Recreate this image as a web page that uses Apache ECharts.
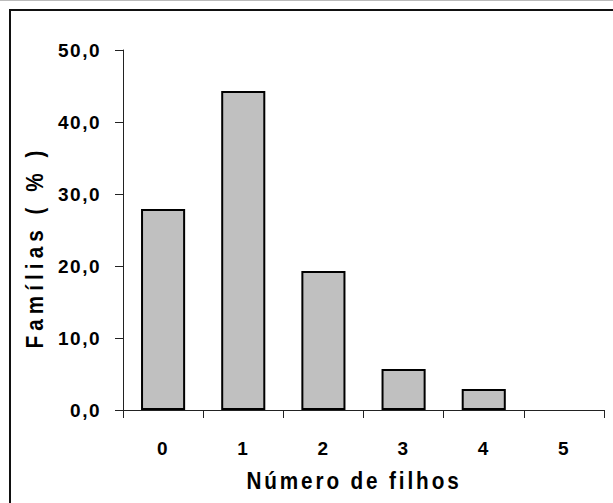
<!DOCTYPE html>
<html>
<head>
<meta charset="utf-8">
<script src="https://cdn.jsdelivr.net/npm/echarts@6/dist/echarts.min.js"></script>
<style>
  html, body { margin: 0; padding: 0; background: #fff; overflow: hidden; }
  #chart { width: 613px; height: 503px; }
</style>
</head>
<body>
<div id="chart"></div>
<script>
// Distribution of families by number of children
const categories = ['0', '1', '2', '3', '4', '5'];
const familyShare = [27.9, 44.3, 19.3, 5.7, 2.9, 0];
const yTicks = { min: 0, max: 50, step: 10 };
const xTitle = 'Número de filhos';
const yTitle = 'Famílias ( % )';

const FONT = '"Liberation Sans", Arial, sans-serif';
const chart = echarts.init(document.getElementById('chart'), null, { renderer: 'svg' });

// empty categories get no outline, so nothing is drawn on the axis for them
const barData = familyShare.map(v => (v > 0 ? v : { value: v, itemStyle: { borderWidth: 0 } }));

chart.setOption({
  animation: false,
  backgroundColor: '#fff',
  grid: { left: 123, right: 9, top: 50, bottom: 93, containLabel: false },
  xAxis: {
    type: 'category',
    data: categories,
    boundaryGap: true,
    axisLine: { lineStyle: { color: '#222', width: 1 } },
    axisTick: { show: true, length: 8, alignWithLabel: false, lineStyle: { color: '#222', width: 1 } },
    axisLabel: { color: '#000', fontFamily: FONT, fontWeight: 'bold', fontSize: 19, margin: 29 },
    splitLine: { show: false }
  },
  yAxis: {
    type: 'value',
    min: yTicks.min,
    max: yTicks.max,
    interval: yTicks.step,
    axisLine: { show: true, lineStyle: { color: '#222', width: 1 } },
    axisTick: { show: true, length: 8, lineStyle: { color: '#222', width: 1 } },
    axisLabel: {
      color: '#000', fontFamily: FONT, fontWeight: 'bold', fontSize: 19, margin: 22,
      formatter: v => v.toFixed(1).replace('.', ',')
    },
    splitLine: { show: false }
  },
  series: [{
    type: 'bar',
    data: barData,
    barWidth: '55%',
    itemStyle: { color: '#c0c0c0', borderColor: '#000', borderWidth: 2 }
  }],
  graphic: [
    // frame around the figure (its right and bottom edges lie outside the page)
    { type: 'line', silent: true, shape: { x1: 9, y1: 10, x2: 613, y2: 10 },
      style: { stroke: '#111', lineWidth: 2 } },
    { type: 'line', silent: true, shape: { x1: 10, y1: 9, x2: 10, y2: 503 },
      style: { stroke: '#111', lineWidth: 2 } },
    { type: 'line', silent: true, shape: { x1: 0, y1: 0.5, x2: 613, y2: 0.5 },
      style: { stroke: '#bbb', lineWidth: 1 } },
    { type: 'text', silent: true, x: 354, y: 481,
      style: { text: xTitle, font: 'bold 23px ' + FONT, fill: '#000',
               textAlign: 'center', textVerticalAlign: 'middle' } },
    { type: 'text', silent: true, x: 35, y: 247, rotation: Math.PI / 2,
      style: { text: yTitle, font: 'bold 23px ' + FONT, fill: '#000',
               textAlign: 'center', textVerticalAlign: 'middle' } }
  ]
});

// Condensed, widely tracked lettering: squeeze each text horizontally about
// its anchor point and open up the letter spacing.
function setLettering(el, squeeze, spacing) {
  const x = parseFloat(el.getAttribute('x') || 0);
  const y = parseFloat(el.getAttribute('y') || 0);
  const tr = el.getAttribute('transform') || '';
  el.setAttribute('x', 0);
  el.setAttribute('y', 0);
  el.setAttribute('transform', `${tr} translate(${x} ${y}) scale(${squeeze} 1)`);
  el.style.letterSpacing = spacing + 'px';
}
document.querySelectorAll('#chart text').forEach(t => {
  const s = t.textContent;
  if (s === xTitle) setLettering(t, 0.9, 3.2);
  else if (s === yTitle) setLettering(t, 0.9, 5.6);
  else setLettering(t, 1, 1.5);
});
</script>
</body>
</html>
